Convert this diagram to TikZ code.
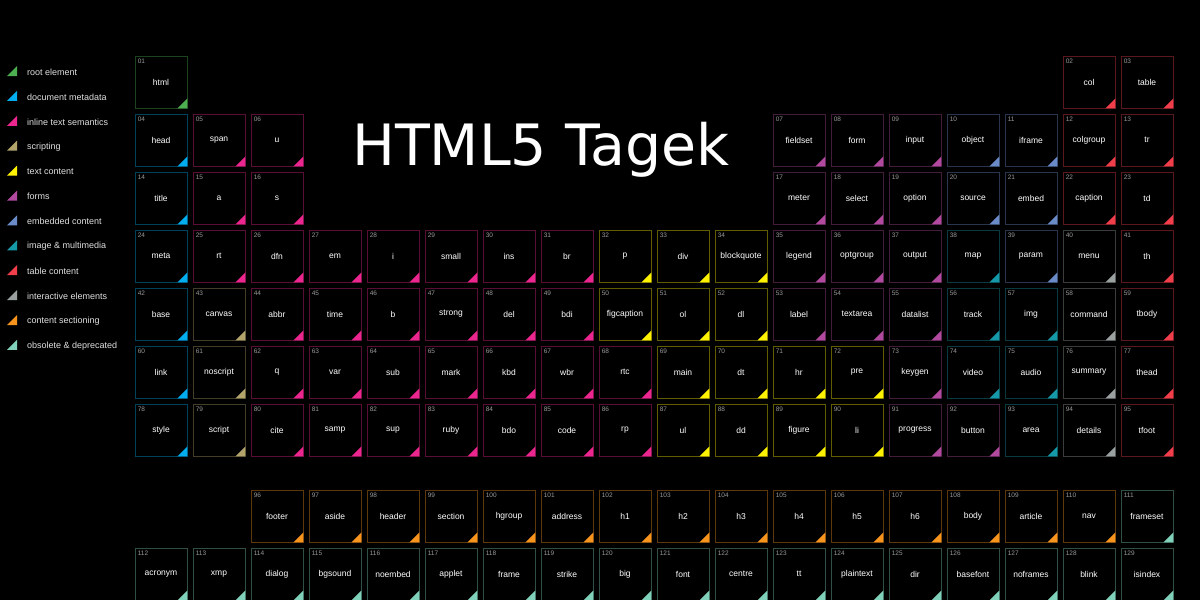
\documentclass[tikz,border=0pt]{standalone}
\usepackage{fontspec}
\setmainfont{Liberation Sans}
\newfontfamily\titlefont{DejaVu Sans}
\usepackage{xcolor}
\usetikzlibrary{positioning}

\definecolor{croot}{HTML}{4CAF50}
\definecolor{cmeta}{HTML}{00AEEF}
\definecolor{cinline}{HTML}{EC268F}
\definecolor{cscript}{HTML}{B3A46C}
\definecolor{ctext}{HTML}{FFF200}
\definecolor{cforms}{HTML}{B14A9E}
\definecolor{cembed}{HTML}{6A8BC8}
\definecolor{cmedia}{HTML}{1599A8}
\definecolor{ctable}{HTML}{F03E4A}
\definecolor{cinter}{HTML}{9AA1A0}
\definecolor{csection}{HTML}{F7941D}
\definecolor{cobsolete}{HTML}{7FD1B9}

\tikzset{
  cell/.style={draw=#1!38!black, line width=0.8pt, fill=black, minimum size=52pt,
               inner sep=0pt, text=white, font=\fontsize{8.5}{10}\selectfont},
  num/.style={text=gray!80, font=\fontsize{6.5}{7}\selectfont, inner sep=3pt, anchor=north west},
  legtext/.style={text=white!88!black, font=\fontsize{9}{10}\selectfont, anchor=west, inner sep=0pt},
}

\begin{document}
\begin{tikzpicture}[x=1pt,y=-1pt]
\fill[black] (0,0) rectangle (1200,600);
\useasboundingbox (0,0) rectangle (1200,600);

% legend
\foreach \k/\t [count=\i from 0] in {croot/root element, cmeta/document metadata,
    cinline/inline text semantics, cscript/scripting, ctext/text content, cforms/forms,
    cembed/embedded content, cmedia/image \& multimedia, ctable/table content,
    cinter/interactive elements, csection/content sectioning, cobsolete/obsolete \& deprecated}
{
  \node[legtext] (leg\i) at (27, 72+24.9*\i) {\t};
  \fill[\k] ([xshift=-10pt,yshift=-4pt]leg\i.west) -- ++(-10,0) -- ++(10,-10) -- cycle;
}

% title
\node[text=white, font=\titlefont\fontsize{57}{60}\selectfont, anchor=base] (title) at (541,165) {HTML5 Tagek};

% elements: column/row centre/number/tag/category
\foreach \c/\y/\n/\t/\k in {
  1/82/01/html/croot, 17/82/02/col/ctable, 18/82/03/table/ctable,
  1/140/04/head/cmeta, 2/140/05/span/cinline, 3/140/06/u/cinline,
  12/140/07/fieldset/cforms, 13/140/08/form/cforms, 14/140/09/input/cforms,
  15/140/10/object/cembed, 16/140/11/iframe/cembed, 17/140/12/colgroup/ctable, 18/140/13/tr/ctable,
  1/198/14/title/cmeta, 2/198/15/a/cinline, 3/198/16/s/cinline,
  12/198/17/meter/cforms, 13/198/18/select/cforms, 14/198/19/option/cforms,
  15/198/20/source/cembed, 16/198/21/embed/cembed, 17/198/22/caption/ctable, 18/198/23/td/ctable,
  1/256/24/meta/cmeta, 2/256/25/rt/cinline, 3/256/26/dfn/cinline, 4/256/27/em/cinline,
  5/256/28/i/cinline, 6/256/29/small/cinline, 7/256/30/ins/cinline, 8/256/31/br/cinline,
  9/256/32/p/ctext, 10/256/33/div/ctext, 11/256/34/blockquote/ctext,
  12/256/35/legend/cforms, 13/256/36/optgroup/cforms, 14/256/37/output/cforms,
  15/256/38/map/cmedia, 16/256/39/param/cembed, 17/256/40/menu/cinter, 18/256/41/th/ctable,
  1/314/42/base/cmeta, 2/314/43/canvas/cscript, 3/314/44/abbr/cinline, 4/314/45/time/cinline,
  5/314/46/b/cinline, 6/314/47/strong/cinline, 7/314/48/del/cinline, 8/314/49/bdi/cinline,
  9/314/50/figcaption/ctext, 10/314/51/ol/ctext, 11/314/52/dl/ctext,
  12/314/53/label/cforms, 13/314/54/textarea/cforms, 14/314/55/datalist/cforms,
  15/314/56/track/cmedia, 16/314/57/img/cmedia, 17/314/58/command/cinter, 18/314/59/tbody/ctable,
  1/372/60/link/cmeta, 2/372/61/noscript/cscript, 3/372/62/q/cinline, 4/372/63/var/cinline,
  5/372/64/sub/cinline, 6/372/65/mark/cinline, 7/372/66/kbd/cinline, 8/372/67/wbr/cinline,
  9/372/68/rtc/cinline, 10/372/69/main/ctext, 11/372/70/dt/ctext, 12/372/71/hr/ctext,
  13/372/72/pre/ctext, 14/372/73/keygen/cforms, 15/372/74/video/cmedia, 16/372/75/audio/cmedia,
  17/372/76/summary/cinter, 18/372/77/thead/ctable,
  1/430/78/style/cmeta, 2/430/79/script/cscript, 3/430/80/cite/cinline, 4/430/81/samp/cinline,
  5/430/82/sup/cinline, 6/430/83/ruby/cinline, 7/430/84/bdo/cinline, 8/430/85/code/cinline,
  9/430/86/rp/cinline, 10/430/87/ul/ctext, 11/430/88/dd/ctext, 12/430/89/figure/ctext,
  13/430/90/li/ctext, 14/430/91/progress/cforms, 15/430/92/button/cforms, 16/430/93/area/cmedia,
  17/430/94/details/cinter, 18/430/95/tfoot/ctable,
  3/516/96/footer/csection, 4/516/97/aside/csection, 5/516/98/header/csection,
  6/516/99/section/csection, 7/516/100/hgroup/csection, 8/516/101/address/csection,
  9/516/102/h1/csection, 10/516/103/h2/csection, 11/516/104/h3/csection, 12/516/105/h4/csection,
  13/516/106/h5/csection, 14/516/107/h6/csection, 15/516/108/body/csection,
  16/516/109/article/csection, 17/516/110/nav/csection, 18/516/111/frameset/cobsolete,
  1/574/112/acronym/cobsolete, 2/574/113/xmp/cobsolete, 3/574/114/dialog/cobsolete,
  4/574/115/bgsound/cobsolete, 5/574/116/noembed/cobsolete, 6/574/117/applet/cobsolete,
  7/574/118/frame/cobsolete, 8/574/119/strike/cobsolete, 9/574/120/big/cobsolete,
  10/574/121/font/cobsolete, 11/574/122/centre/cobsolete, 12/574/123/tt/cobsolete,
  13/574/124/plaintext/cobsolete, 14/574/125/dir/cobsolete, 15/574/126/basefont/cobsolete,
  16/574/127/noframes/cobsolete, 17/574/128/blink/cobsolete, 18/574/129/isindex/cobsolete}
{
  \node[cell=\k] (\t) at ({161+58*(\c-1)}, \y) {\t};
  \node[num] at (\t.north west) {\n};
  \fill[\k] (\t.south east) -- ++(-10,0) -- ++(10,-10) -- cycle;
}
\end{tikzpicture}
\end{document}
